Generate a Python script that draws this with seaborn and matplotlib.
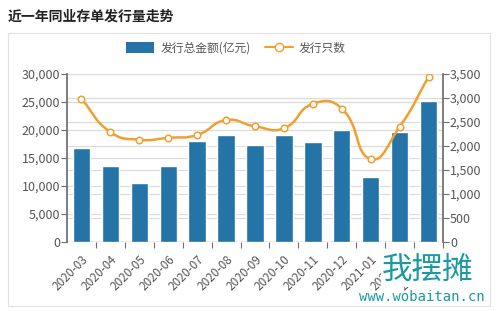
import numpy as np
import pandas as pd
import matplotlib
matplotlib.use("Agg")
import matplotlib.pyplot as plt
from matplotlib.path import Path
from matplotlib.patches import PathPatch, Rectangle
from matplotlib.lines import Line2D
import seaborn as sns

months = ["2020-03", "2020-04", "2020-05", "2020-06", "2020-07", "2020-08", "2020-09",
          "2020-10", "2020-11", "2020-12", "2021-01", "2021-02", "2021-03"]
amount = [16700, 13600, 10600, 13600, 18000, 19100, 17300, 19100, 17900, 20000, 11600, 19700, 25100]
count = [2980, 2290, 2130, 2170, 2230, 2540, 2410, 2370, 2880, 2780, 1730, 2400, 3440]
left_ticks = [0, 5000, 10000, 15000, 20000, 25000, 30000]
right_ticks = [0, 500, 1000, 1500, 2000, 2500, 3000, 3500]

title = "近一年同业存单发行量走势"
bar_label = "发行总金额(亿元)"
line_label = "发行只数"

BAR = "#2474a8"
LINE = "#f0a030"
GRID = "#dcdcdc"
AX = "#6e6e6e"
TXT = "#555555"

sns.set_theme(style="white")
plt.rcParams["font.family"] = ["Noto Sans CJK SC", "DejaVu Sans"]

df = pd.DataFrame({"month": months, "amount": amount, "count": count})

fig = plt.figure(figsize=(5, 3.11), dpi=100)
fig.patch.set_facecolor("white")
# panel border
fig.add_artist(Rectangle((8 / 500, 1 - 306 / 311), 482 / 500, 273 / 311,
                         transform=fig.transFigure, fill=False, edgecolor="#e2e2e2", lw=0.8))
fig.text(8 / 500, 1 - 17 / 311, title, fontsize=10, fontweight="bold", color="#222222",
         va="center", ha="left")

ax = fig.add_axes([67 / 500, 1 - 242 / 311, 376 / 500, 168 / 311])
sns.barplot(data=df, x="month", y="amount", color=BAR, saturation=1, width=0.6, ax=ax)
ax.set_ylim(0, 30000)
ax.set_xlim(-0.5, len(months) - 0.5)
ax.set_yticks(left_ticks)
ax.set_yticklabels([f"{v:,}" for v in left_ticks])
ax.set_xlabel("")
ax.set_ylabel("")
ax.set_axisbelow(True)
for v in left_ticks[1:]:
    ax.axhline(v, color=GRID, lw=0.9, zorder=0)

ax2 = ax.twinx()
ax2.set_ylim(0, 3500)
ax2.set_yticks(right_ticks)
ax2.set_yticklabels([f"{v:,}" for v in right_ticks])
for v in right_ticks[1:]:
    ax.axhline(v * 30000 / 3500, color=GRID, lw=0.9, zorder=0)

# smooth line (ECharts-like bezier) in pixel space
xs = np.arange(len(months), dtype=float)
fig.canvas.draw()
pts = ax2.transData.transform(np.column_stack([xs, count]))
smooth = 0.5
verts = [tuple(pts[0])]
codes = [Path.MOVETO]
n = len(pts)
cps = []
for i in range(n):
    p = pts[i]
    prev = pts[i - 1] if i > 0 else p
    nxt = pts[i + 1] if i < n - 1 else p
    v = nxt - prev
    d0 = np.hypot(*(p - prev))
    d1 = np.hypot(*(p - nxt))
    s = d0 + d1
    if s == 0:
        cps.append((p, p))
        continue
    cps.append((p - v * smooth * d0 / s, p + v * smooth * d1 / s))
for i in range(n - 1):
    verts += [tuple(cps[i][1]), tuple(cps[i + 1][0]), tuple(pts[i + 1])]
    codes += [Path.CURVE4] * 3
inv = ax2.transData.inverted()
dverts = inv.transform(np.array(verts))
ax2.add_patch(PathPatch(Path(dverts, codes), facecolor="none", edgecolor=LINE, lw=1.8, zorder=3))
sns.scatterplot(x=xs, y=count, ax=ax2, color="white", edgecolor=LINE, linewidth=1.1,
                s=22, zorder=4, legend=False)

for a in (ax, ax2):
    a.spines["top"].set_visible(False)
    a.spines["bottom"].set_visible(False)
    a.spines["left"].set_color(AX)
    a.spines["right"].set_color(AX)
    a.tick_params(axis="y", colors=TXT, labelsize=9, length=4, width=0.8, direction="out", pad=1)
ax.spines["right"].set_visible(False)
ax2.spines["left"].set_visible(False)
ax.tick_params(axis="y", left=True, color=AX)
ax2.tick_params(axis="y", right=True, color=AX)
ax.axhline(0, color=AX, lw=0.9, zorder=5)
ax.set_xticks(xs + 0.5, minor=True)
ax.tick_params(axis="x", which="minor", bottom=True, length=4, color=AX, width=0.8)
ax.tick_params(axis="x", which="major", bottom=False, labelsize=8.5, labelcolor=TXT, pad=2)
plt.setp(ax.get_xticklabels(), rotation=45, ha="right", rotation_mode="anchor")

handles = [Rectangle((0, 0), 1, 1, facecolor=BAR, edgecolor="none"),
           Line2D([0], [0], color=LINE, lw=1.5, marker="o", markersize=6,
                  markerfacecolor="white", markeredgecolor=LINE)]
fig.legend(handles, [bar_label, line_label], loc="center", bbox_to_anchor=(236 / 500, 1 - 48 / 311),
           ncol=2, frameon=False, fontsize=8.5, handlelength=2.4, handleheight=1.0,
           columnspacing=1.2, handletextpad=0.5, labelcolor=TXT)

# watermark
fig.text(428 / 500, 1 - 270 / 311, "我摆摊", fontsize=22, color="#1a9aa0", ha="center", va="center",
         bbox=dict(facecolor="white", edgecolor="none", pad=1))
fig.text(422 / 500, 1 - 297 / 311, "www.wobaitan.cn", fontsize=10, color="#1a9aa0", ha="center",
         va="center", family="DejaVu Sans Mono")

fig.savefig("out.png", dpi=100, facecolor="white")
